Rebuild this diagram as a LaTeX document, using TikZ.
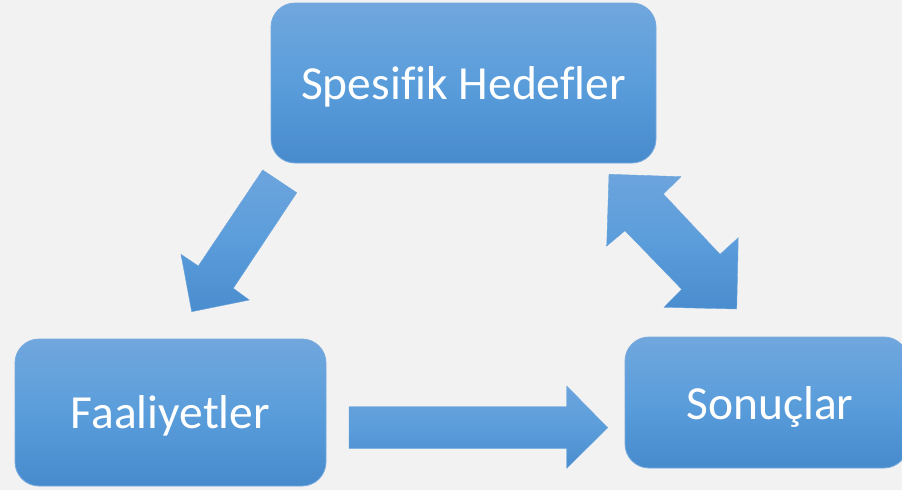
\documentclass[tikz,border=0pt]{standalone}
\usepackage{fontspec}
\setmainfont[Ligatures=NoCommon]{Carlito}
\definecolor{bg}{RGB}{242,242,242}
\definecolor{boxedge}{RGB}{120,170,222}
\definecolor{btop}{RGB}{112,167,221}
\definecolor{bmid}{RGB}{90,157,219}
\definecolor{bbot}{RGB}{72,139,205}
\definecolor{aedge}{RGB}{105,163,220}
\definecolor{atop}{RGB}{108,164,221}
\definecolor{amid}{RGB}{91,157,219}
\definecolor{abot}{RGB}{74,141,206}
\begin{document}
\begin{tikzpicture}[x=1pt,y=-1pt,
  blue box/.style={rounded corners=24pt, draw=boxedge, line width=0.8pt,
    top color=btop, bottom color=bbot, middle color=bmid},
  box text/.style={text=white, font=\fontsize{47.5}{57}\selectfont, inner sep=0pt},
  blue arrow/.style={draw=aedge, line width=0.4pt,
    top color=atop, bottom color=abot, middle color=amid}]
\fill[bg] (0,0) rectangle (902,490);
\useasboundingbox (0,0) rectangle (902,490);
% boxes
\path[blue box] (271,3) rectangle (656,163);
\node[box text] (spes) at (463.5,86.5) {Spesifik Hedefler};
\path[blue box] (15,339) rectangle (326,486);
\node[box text] (faal) at (170.5,416) {Faaliyetler};
\path[blue box] (625,337) rectangle (908,468);
\node[box text] (sonu) at (770,407) {Sonuçlar};
% arrow: Spesifik -> Faaliyetler
\path[blue arrow] (262.7,170) -- (296.7,192.7) -- (233.3,288.3) -- (249.3,300)
  -- (191.7,311.7) -- (181,254.3) -- (198.3,266) -- cycle;
% double arrow: Spesifik <-> Sonuçlar
\path[blue arrow] (609,174.3) -- (681,176.7) -- (663.3,194) -- (720,254.3) -- (738.3,237.7)
  -- (736.7,309) -- (664,307.3) -- (681.7,289.3) -- (625,230.7) -- (606.7,246) -- cycle;
% arrow: Faaliyetler -> Sonuçlar
\path[blue arrow] (349,406.7) -- (566.7,406.7) -- (566.7,386) -- (607.7,427.7)
  -- (566.7,468.3) -- (566.7,448.3) -- (349,448.3) -- cycle;
\end{tikzpicture}
\end{document}
